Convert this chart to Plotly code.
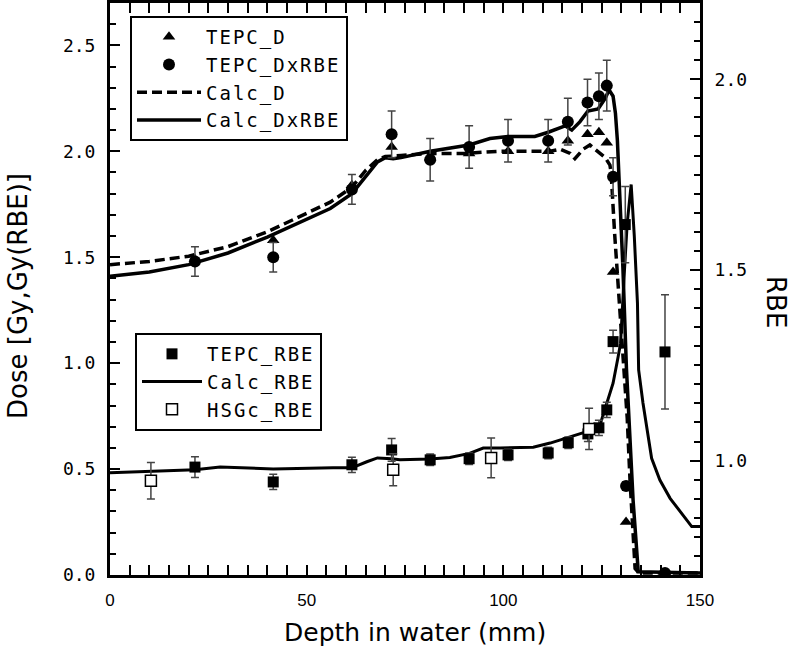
import plotly.graph_objects as go

# ---------------- data ----------------
calc_d_x = [0, 10, 20, 30, 40, 50, 56, 61.5, 65, 68, 70, 74, 81, 90, 99, 106.8, 111.9, 114.4, 117, 118.2,
            120.3, 122, 123.8, 125.9, 127.1, 127.4, 128.3, 129.2, 130.0, 130.6, 131.5, 132.2, 133.5, 134.5, 150]
calc_d_y = [1.465, 1.48, 1.505, 1.55, 1.62, 1.71, 1.76, 1.83, 1.91, 1.96, 1.975, 1.98, 1.99, 1.99, 2.0, 2.0, 2.0, 2.01, 1.99, 1.965,
            2.01, 2.03, 2.0, 1.97, 1.935, 1.90, 1.61, 1.37, 1.13, 0.96, 0.74, 0.45, 0.03, 0.01, 0.01]

calc_dxrbe_x = [0, 10, 20, 30, 40, 50, 56, 61.5, 65, 68, 70, 72, 74, 81.4, 91.3, 96.6, 101.2, 108, 111.4, 115.7,
                117.4, 119.5, 121.5, 124.1, 125.9, 126.9, 127.9, 128.5, 129.0, 129.4, 130.4, 131.3, 131.9, 133.0, 134.3, 150]
calc_dxrbe_y = [1.41, 1.43, 1.465, 1.52, 1.595, 1.68, 1.73, 1.80, 1.88, 1.95, 1.97, 1.965, 1.97, 2.0, 2.03, 2.06, 2.07, 2.07, 2.09, 2.12,
                2.10, 2.14, 2.19, 2.20, 2.25, 2.29, 2.26, 2.18, 2.05, 1.90, 1.45, 0.975, 0.737, 0.35, 0.015, 0.01]

calc_rbe_x = [0, 10, 21.6, 28, 41.5, 56.7, 61.5, 65.3, 68, 71.6, 73.7, 81.4, 86.4, 91.4, 94.9, 99.2, 107.6, 111.9, 116.1, 121.2,
              124.6, 125.8, 127.9, 129.2, 129.8, 130.8, 131.5, 132.5, 133.3, 134.1, 134.4, 135.5, 136.8, 137.7, 139.8, 142.4, 147.9, 150]
calc_rbe_y = [0.968, 0.972, 0.976, 0.983, 0.978, 0.981, 0.981, 0.997, 1.007, 1.005, 1.002, 1.004, 1.008, 1.019, 1.033, 1.033, 1.035, 1.046, 1.059, 1.076,
              1.094, 1.133, 1.203, 1.273, 1.308, 1.50, 1.623, 1.724, 1.588, 1.413, 1.238, 1.151, 1.063, 1.006, 0.949, 0.901, 0.827, 0.827]

tepc_x = [21.6, 41.5, 61.5, 71.6, 81.4, 91.3, 101.2, 111.4, 116.4, 121.4, 124.3, 126.3, 127.9, 131.2, 141.1]
tepc_d = [1.49, 1.58, 1.84, 2.02, 1.97, 1.99, 2.0, 2.0, 2.05, 2.08, 2.09, 2.04, 1.43, 0.25, 0.01]
tepc_dxrbe = [1.48, 1.50, 1.82, 2.08, 1.96, 2.02, 2.05, 2.05, 2.14, 2.23, 2.26, 2.31, 1.88, 0.42, 0.01]
tepc_dxrbe_err = [0.07, 0.07, 0.07, 0.11, 0.1, 0.1, 0.1, 0.1, 0.11, 0.11, 0.11, 0.12, 0.09, 0.02, 0.0]

tepc_rbe_x = [21.6, 41.5, 61.5, 71.6, 81.4, 91.3, 101.2, 111.4, 116.5, 121.5, 124.3, 126.3, 127.9, 131.0, 141.1]
tepc_rbe = [0.983, 0.944, 0.989, 1.028, 1.002, 1.005, 1.015, 1.02, 1.047, 1.07, 1.086, 1.133, 1.312, 1.619, 1.285]
tepc_rbe_err = [0.027, 0.02, 0.02, 0.03, 0.015, 0.015, 0.015, 0.015, 0.015, 0.02, 0.02, 0.02, 0.03, 0.1, 0.15]

hsgc_x = [10.4, 72.0, 96.9, 121.8]
hsgc_rbe = [0.947, 0.976, 1.007, 1.083]
hsgc_err = [0.048, 0.042, 0.052, 0.054]

x_ticks = [0, 50, 100, 150]
y_ticks = [0.0, 0.5, 1.0, 1.5, 2.0, 2.5]
y2_ticks = [1.0, 1.5, 2.0]

# ---------------- figure ----------------
ERR = "#444444"
MONO = "DejaVu Sans Mono"
SANS = "DejaVu Sans"


def lg(name):
    # widen the legend text a little, like the narrow, spaced font of the original
    return "<span style='letter-spacing:2px'>" + name + "</span>"


fig = go.Figure()

fig.add_trace(go.Scatter(x=calc_d_x, y=calc_d_y, mode="lines", name=lg("Calc_D"),
                         line=dict(color="black", width=3.5, dash="10px,5px"),
                         legend="legend", legendrank=3))
fig.add_trace(go.Scatter(x=calc_dxrbe_x, y=calc_dxrbe_y, mode="lines", name=lg("Calc_DxRBE"),
                         line=dict(color="black", width=3.5),
                         legend="legend", legendrank=4))
fig.add_trace(go.Scatter(x=calc_rbe_x, y=calc_rbe_y, mode="lines", name=lg("Calc_RBE"), yaxis="y2",
                         line=dict(color="black", width=3),
                         legend="legend2", legendrank=2))

fig.add_trace(go.Scatter(x=tepc_x, y=tepc_d, mode="markers", name=lg("TEPC_D"),
                         marker=dict(symbol="triangle-up", size=11, color="black"),
                         legend="legend", legendrank=1))
fig.add_trace(go.Scatter(x=tepc_x, y=tepc_dxrbe, mode="markers", name=lg("TEPC_DxRBE"),
                         marker=dict(symbol="circle", size=12, color="black"),
                         error_y=dict(type="data", array=tepc_dxrbe_err, color=ERR, thickness=1.5, width=4),
                         legend="legend", legendrank=2))
fig.add_trace(go.Scatter(x=tepc_rbe_x, y=tepc_rbe, mode="markers", name=lg("TEPC_RBE"), yaxis="y2",
                         marker=dict(symbol="square", size=11, color="black"),
                         error_y=dict(type="data", array=tepc_rbe_err, color=ERR, thickness=1.5, width=4),
                         legend="legend2", legendrank=1))
fig.add_trace(go.Scatter(x=hsgc_x, y=hsgc_rbe, mode="markers", name=lg("HSGc_RBE"), yaxis="y2",
                         marker=dict(symbol="square", size=11, color="white",
                                     line=dict(color="black", width=1.5)),
                         error_y=dict(type="data", array=hsgc_err, color=ERR, thickness=1.5, width=4),
                         legend="legend2", legendrank=3))

L, R, T, B = 110, 92, 3, 79
W, H = 792, 654
pw, ph = W - L - R, H - T - B


def px(xp):
    return (xp - L) / pw


def py(yp):
    return (H - B - yp) / ph


axis_common = dict(showline=True, linecolor="black", linewidth=3, ticks="inside",
                   ticklen=10, tickwidth=2, tickcolor="black", showgrid=False, zeroline=False,
                   automargin=False)

fig.update_layout(
    width=W, height=H,
    margin=dict(l=L, r=R, t=T, b=B),
    paper_bgcolor="white", plot_bgcolor="white",
    showlegend=True,
    xaxis=dict(range=[0, 150], tickvals=x_ticks, mirror="allticks", ticklabelstandoff=8,
               tickfont=dict(family="Liberation Sans", size=17, color="black"),
               minor=dict(dtick=5, ticks="inside", ticklen=6, tickwidth=1.5, tickcolor="black"),
               **axis_common),
    yaxis=dict(range=[0, 2.7], tickvals=y_ticks, tickformat=".1f", ticklabelstandoff=8,
               tickfont=dict(family=MONO, size=18, color="black"),
               minor=dict(dtick=0.1, ticks="inside", ticklen=6, tickwidth=1.5, tickcolor="black"),
               **axis_common),
    yaxis2=dict(range=[0.7, 2.2], tickvals=y2_ticks, tickformat=".1f", overlaying="y", side="right",
                anchor="x", ticklabelstandoff=8,
                tickfont=dict(family=MONO, size=18, color="black"),
                minor=dict(tick0=0, dtick=0.05, ticks="inside", ticklen=6, tickwidth=1.5, tickcolor="black"),
                **axis_common),
    legend=dict(x=px(130), y=py(16), xanchor="left", yanchor="top",
                bordercolor="black", borderwidth=2, bgcolor="white",
                font=dict(family=MONO, size=19, color="black"),
                itemwidth=64, tracegroupgap=0),
    legend2=dict(x=px(135), y=py(333), xanchor="left", yanchor="top",
                 bordercolor="black", borderwidth=2, bgcolor="white",
                 font=dict(family=MONO, size=19, color="black"),
                 itemwidth=60, tracegroupgap=0),
    annotations=[
        dict(text="Depth in water (mm)", xref="paper", yref="paper", x=px(415), y=py(632),
             showarrow=False, font=dict(family=SANS, size=25, color="black"),
             xanchor="center", yanchor="middle"),
        dict(text="Dose [Gy,Gy(RBE)]", xref="paper", yref="paper", x=px(18), y=py(296),
             showarrow=False, textangle=-90, font=dict(family=SANS, size=26, color="black"),
             xanchor="center", yanchor="middle"),
        dict(text="RBE", xref="paper", yref="paper", x=px(776), y=py(302),
             showarrow=False, textangle=90, font=dict(family=SANS, size=26, color="black"),
             xanchor="center", yanchor="middle"),
    ],
)

fig.write_html("out.html", config={"displayModeBar": False},
               post_script="document.body.style.margin='0px';document.body.style.overflow='hidden';")
